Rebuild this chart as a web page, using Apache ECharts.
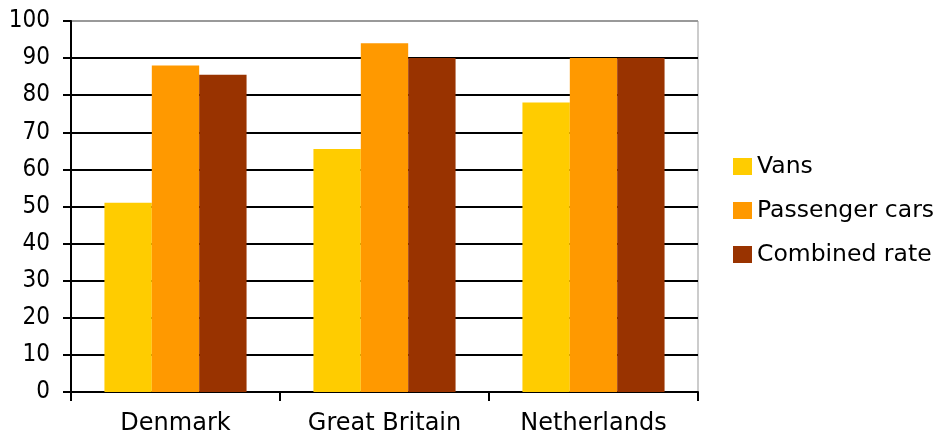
<!DOCTYPE html>
<html>
<head>
<meta charset="utf-8">
<script src="https://cdn.jsdelivr.net/npm/echarts@6/dist/echarts.min.js"></script>
<style>
html,body{margin:0;padding:0;background:#fff;}
#chart{width:938px;height:444px;}
</style>
</head>
<body>
<div id="chart"></div>
<script>
const categories = ['Denmark', 'Great Britain', 'Netherlands'];
const seriesNames = ['Vans', 'Passenger cars', 'Combined rate'];
const vans = [51, 65.5, 78];
const passengerCars = [88, 94, 90];
const combinedRate = [85.5, 90, 90];
const yTicks = [0, 10, 20, 30, 40, 50, 60, 70, 80, 90, 100];

const colors = ['#FFCC00', '#FF9900', '#993300'];
const font = 'DejaVu Sans';

const chart = echarts.init(document.getElementById('chart'), null, {renderer: 'canvas'});
const splitColors = yTicks.map(v => v === 100 ? '#999999' : '#000000');

chart.setOption({
  animation: false,
  backgroundColor: '#ffffff',
  grid: {
    left: 71, right: 240, top: 21, bottom: 52,
    show: true, borderColor: '#999999', borderWidth: 1, backgroundColor: 'transparent'
  },
  legend: {
    orient: 'vertical',
    left: 728,
    top: 149,
    itemWidth: 19,
    itemHeight: 17,
    itemGap: 19,
    icon: 'rect',
    data: seriesNames,
    textStyle: {fontFamily: font, fontSize: 23.5, color: '#000', lineHeight: 25}
  },
  xAxis: {
    type: 'category',
    data: categories,
    axisLine: {lineStyle: {color: '#000', width: 2}},
    axisTick: {show: true, alignWithLabel: false, length: 9, lineStyle: {color: '#000', width: 2}},
    axisLabel: {fontFamily: font, fontSize: 24, color: '#000', margin: 20}
  },
  yAxis: {
    type: 'value',
    min: yTicks[0],
    max: yTicks[yTicks.length - 1],
    interval: 10,
    axisLine: {show: true, lineStyle: {color: '#000', width: 2}},
    axisTick: {show: true, length: 8, lineStyle: {color: '#000', width: 2}},
    axisLabel: {fontFamily: 'DejaVu Sans Condensed', fontSize: 24, color: '#000', margin: 21},
    splitLine: {show: true, lineStyle: {color: splitColors, width: 2}}
  },
  series: [
    {name: seriesNames[0], type: 'bar', data: vans, barGap: '0%', barCategoryGap: '32%', itemStyle: {color: colors[0]}},
    {name: seriesNames[1], type: 'bar', data: passengerCars, barGap: '0%', barCategoryGap: '32%', itemStyle: {color: colors[1]}},
    {name: seriesNames[2], type: 'bar', data: combinedRate, barGap: '0%', barCategoryGap: '32%', itemStyle: {color: colors[2]}}
  ]
});
</script>
</body>
</html>
